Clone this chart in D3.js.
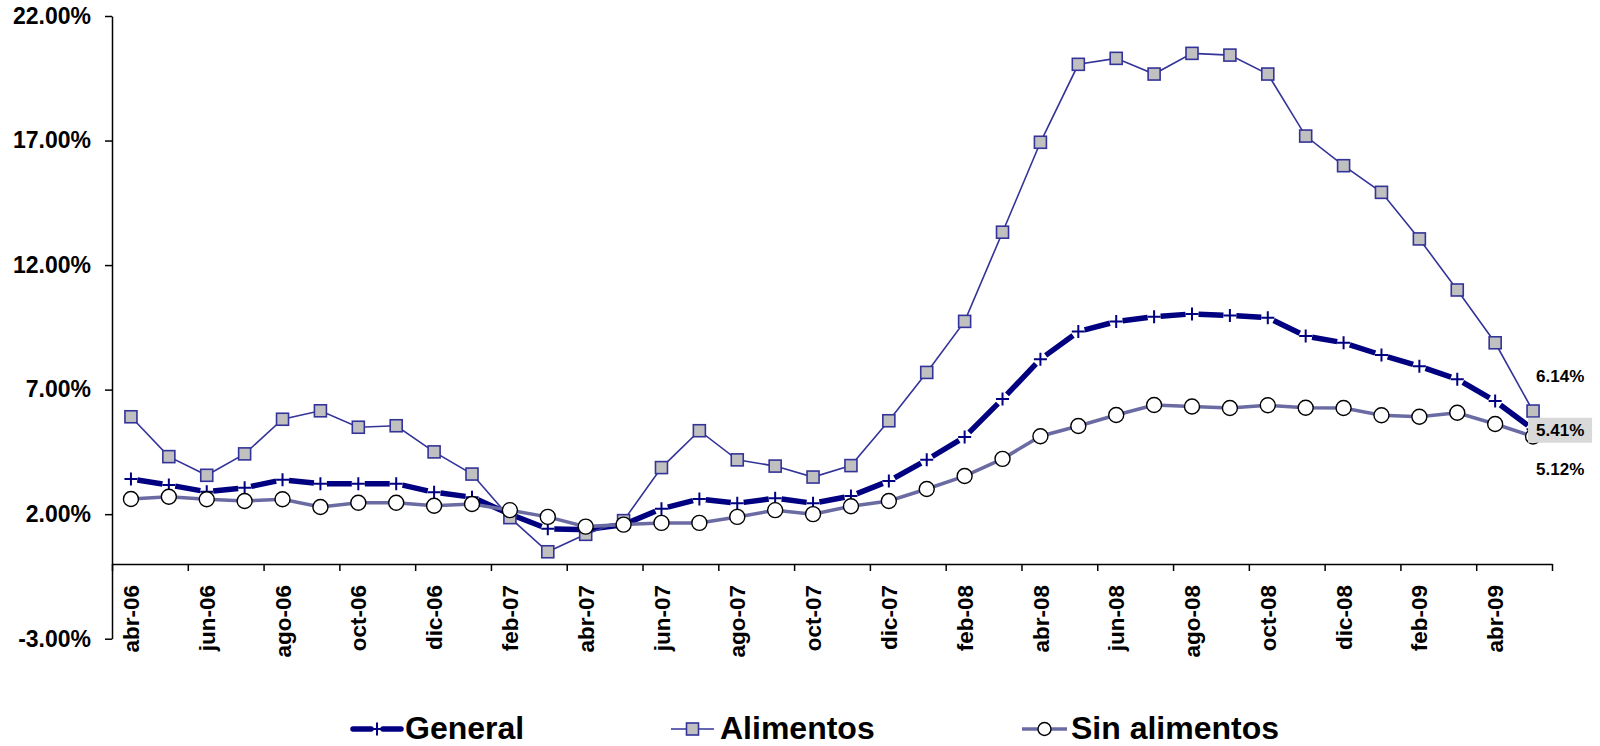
<!DOCTYPE html>
<html><head><meta charset="utf-8">
<script src="https://cdn.jsdelivr.net/npm/d3@7"></script>
<style>body{margin:0;background:#fff}svg{display:block}</style>
</head><body><svg id="c" width="1600" height="746"></svg>
<script>
const months = ["abr-06","may-06","jun-06","jul-06","ago-06","sep-06","oct-06","nov-06","dic-06","ene-07",
  "feb-07","mar-07","abr-07","may-07","jun-07","jul-07","ago-07","sep-07","oct-07","nov-07",
  "dic-07","ene-08","feb-08","mar-08","abr-08","may-08","jun-08","jul-08","ago-08","sep-08",
  "oct-08","nov-08","dic-08","ene-09","feb-09","mar-09","abr-09","may-09"];
const general = [3.41,3.17,2.90,3.06,3.38,3.22,3.22,3.22,2.88,2.68,
  2.00,1.41,1.38,1.58,2.22,2.61,2.44,2.64,2.44,2.73,
  3.33,4.18,5.10,6.62,8.22,9.33,9.73,9.93,10.04,9.98,
  9.89,9.15,8.88,8.39,7.94,7.42,6.54,5.41];
const alimentos = [5.91,4.31,3.56,4.42,5.81,6.15,5.49,5.55,4.50,3.61,
  1.86,0.49,1.19,1.74,3.87,5.35,4.18,3.93,3.49,3.95,
  5.75,7.69,9.74,13.32,16.93,20.06,20.30,19.67,20.50,20.43,
  19.67,17.18,15.99,14.92,13.05,11.00,8.88,6.14];
const sinAlimentos = [2.61,2.70,2.60,2.53,2.60,2.29,2.46,2.46,2.34,2.41,
  2.16,1.89,1.50,1.58,1.65,1.65,1.89,2.16,2.00,2.32,
  2.53,3.01,3.53,4.22,5.13,5.54,5.98,6.38,6.32,6.26,
  6.37,6.27,6.26,5.97,5.91,6.07,5.62,5.12];
const yTicks = [-3,2,7,12,17,22];
const seriesNames = ["General","Alimentos","Sin alimentos"];

const svg = d3.select("#c");
const FONT = "'Liberation Sans', Arial, sans-serif";
const x = d3.scaleLinear().domain([0, months.length]).range([112, 1552]);
const y = d3.scaleLinear().domain([-3, 22]).range([638.7, 16]);
const cx = i => x(i + 0.5);

// Y axis
const yAxis = svg.append("g").attr("transform","translate(112,0)")
  .call(d3.axisLeft(y).tickValues(yTicks).tickSize(7).tickSizeOuter(0).tickPadding(14)
    .tickFormat(d => d.toFixed(2) + "%"));
yAxis.selectAll("path,line").attr("stroke","#000").attr("stroke-width",1.5);
yAxis.selectAll("text").attr("font-family",FONT).attr("font-weight","bold")
  .attr("font-size",23).attr("fill","#000");

// X axis at 0
const xAxis = svg.append("g").attr("transform",`translate(0,${y(0)})`)
  .call(d3.axisBottom(x).tickValues(d3.range(0, months.length + 1, 2)).tickSize(7).tickSizeOuter(0).tickFormat(""));
xAxis.selectAll("path,line").attr("stroke","#000").attr("stroke-width",1.5);
svg.append("g").selectAll("text").data(months.map((m,i)=>({m,i})).filter(d=>d.i%2===0))
  .join("text")
  .attr("transform", d => `translate(${cx(d.i)},${y(0)+21}) rotate(-90)`)
  .attr("text-anchor","end").attr("dy","0.36em")
  .attr("font-family",FONT).attr("font-weight","bold").attr("font-size",22.5).attr("fill","#000")
  .text(d => d.m);

const line = d3.line();

// General: thick dashed with gaps around markers
const GEN = "#000080", ALI = "#333399", SIN = "#6b6ba3";
const gGen = svg.append("g");
for (let i = 0; i < general.length - 1; i++) {
  const p0 = [cx(i), y(general[i])], p1 = [cx(i+1), y(general[i+1])];
  const L = Math.hypot(p1[0]-p0[0], p1[1]-p0[1]);
  const gap = 6.5;
  gGen.append("path").attr("d", line([p0,p1])).attr("fill","none")
    .attr("stroke",GEN).attr("stroke-width",5.5)
    .attr("stroke-dasharray", `0 ${gap} ${Math.max(L-2*gap,0)} ${gap}`);
}
const plus = "M-6.5,0H6.5M0,-6.5V6.5";
gGen.selectAll("path.m").data(general).join("path").attr("class","m")
  .attr("transform",(d,i)=>`translate(${cx(i)},${y(d)})`)
  .attr("d",plus).attr("stroke",GEN).attr("stroke-width",2).attr("fill","none");

// Alimentos
const gAli = svg.append("g");
gAli.append("path").attr("d", line(alimentos.map((d,i)=>[cx(i),y(d)])))
  .attr("fill","none").attr("stroke",ALI).attr("stroke-width",1.6);
gAli.selectAll("rect").data(alimentos).join("rect")
  .attr("x",(d,i)=>cx(i)-6).attr("y",d=>y(d)-6).attr("width",12).attr("height",12)
  .attr("fill","#c0c0c0").attr("stroke",ALI).attr("stroke-width",1.6);

// Sin alimentos
const gSin = svg.append("g");
gSin.append("path").attr("d", line(sinAlimentos.map((d,i)=>[cx(i),y(d)])))
  .attr("fill","none").attr("stroke",SIN).attr("stroke-width",3.5);
gSin.selectAll("circle").data(sinAlimentos).join("circle")
  .attr("cx",(d,i)=>cx(i)).attr("cy",d=>y(d)).attr("r",7.5)
  .attr("fill","#fff").attr("stroke","#000").attr("stroke-width",1.4);

// End labels
const last = months.length - 1;
const lx = cx(last) + 3;
const endLab = [
  {v: alimentos[last], dy: -35, box:false},
  {v: general[last], dy: 1, box:true},
  {v: sinAlimentos[last], dy: 33, box:false}
];
endLab.forEach(d => {
  const yy = y(d.v) + d.dy;
  if (d.box) svg.append("rect").attr("x", lx - 8).attr("y", yy - 12.5).attr("width", 64).attr("height", 25)
    .attr("fill","#d9d9d9");
  svg.append("text").attr("x", lx).attr("y", yy).attr("dy","0.35em")
    .attr("font-family",FONT).attr("font-weight","bold").attr("font-size",17).attr("fill","#000")
    .text(d.v.toFixed(2) + "%");
});

// Legend
const ly = 729;
const leg = [
  {name: seriesNames[0], x0: 353, x1: 401, tx: 405},
  {name: seriesNames[1], x0: 671, x1: 714, tx: 720},
  {name: seriesNames[2], x0: 1022, x1: 1067, tx: 1071}
];
(() => {
  const d = leg[0], m = (d.x0 + d.x1)/2;
  svg.append("path").attr("d", line([[d.x0,ly],[m-6,ly]])).attr("stroke",GEN).attr("stroke-width",5.5).attr("stroke-linecap","round");
  svg.append("path").attr("d", line([[m+6,ly],[d.x1,ly]])).attr("stroke",GEN).attr("stroke-width",5.5).attr("stroke-linecap","round");
  svg.append("path").attr("transform",`translate(${m},${ly})`).attr("d",plus).attr("stroke",GEN).attr("stroke-width",2);
})();
(() => {
  const d = leg[1], m = (d.x0 + d.x1)/2;
  svg.append("path").attr("d", line([[d.x0,ly],[d.x1,ly]])).attr("stroke",ALI).attr("stroke-width",1.6);
  svg.append("rect").attr("x",m-6).attr("y",ly-6).attr("width",12).attr("height",12)
    .attr("fill","#c0c0c0").attr("stroke",ALI).attr("stroke-width",1.6);
})();
(() => {
  const d = leg[2], m = (d.x0 + d.x1)/2;
  svg.append("path").attr("d", line([[d.x0,ly],[d.x1,ly]])).attr("stroke",SIN).attr("stroke-width",3.5);
  svg.append("circle").attr("cx",m).attr("cy",ly).attr("r",6.5)
    .attr("fill","#fff").attr("stroke","#000").attr("stroke-width",1.4);
})();
svg.append("g").selectAll("text").data(leg).join("text")
  .attr("x", d => d.tx).attr("y", 739)
  .attr("font-family",FONT).attr("font-weight","bold").attr("font-size",32).attr("fill","#000")
  .text(d => d.name);
</script>
</body></html>
